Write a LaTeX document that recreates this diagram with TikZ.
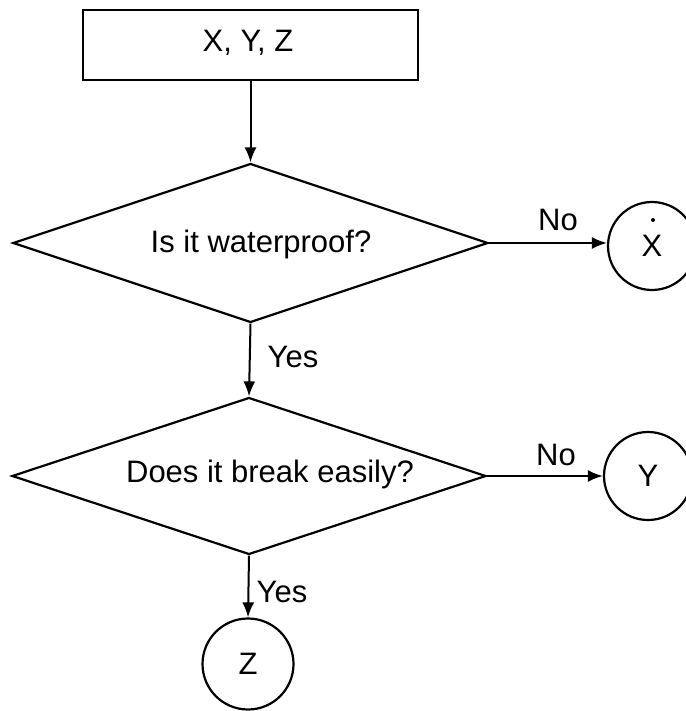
\documentclass[tikz,border=0pt]{standalone}
\usepackage{fontspec}
\setmainfont{Liberation Sans}
\usetikzlibrary{shapes.geometric,arrows.meta}
\begin{document}
\begin{tikzpicture}[x=1pt,y=-1pt,
  line width=2.2pt,
  every node/.style={font=\fontsize{31}{36}\selectfont},
  box/.style={draw, rectangle, minimum width=335pt, minimum height=70pt, inner sep=0pt},
  dia/.style={draw, diamond, inner sep=0pt},
  circ/.style={draw, circle, minimum size=88pt, inner sep=0pt},
  lbl/.style={anchor=base, inner sep=0pt},
  arr/.style={-{Latex[length=15pt,width=12pt]}, line width=2pt}]
\useasboundingbox (0,0) rectangle (685,711);
% boxes and decisions
\node[box] (top) at (250.5,45) {};
\node[lbl] (toptxt) at (248,52) {X, Y, Z};
\node[dia, minimum width=475pt, minimum height=159pt] (d1) at (250.5,243) {};
\node[lbl] (d1txt) at (261,252) {Is it waterproof?};
\node[dia, minimum width=474pt, minimum height=157pt] (d2) at (249,476) {};
\node[lbl] (d2txt) at (270,482) {Does it break easily?};
% outcomes
\node[circ] (cx) at (652,246) {X};
\fill ([shift={(1,-26)}]cx.center) circle (2pt);
\node[circ] (cy) at (648,476) {Y};
\node[circ, minimum size=91pt] (cz) at (248,664) {Z};
% connectors
\draw[arr] (top.south) -- (d1.north);
\draw[arr] (d1.south) -- (d2.north);
\draw[arr] (d2.south) -- (cz.north);
\draw[arr] (d1.east) -- (d1.east -| cx.west);
\draw[arr] (d2.east) -- (d2.east -| cy.west);
% labels
\node[lbl] (no1) at (558,230) {No};
\node[lbl] (no2) at (556,465) {No};
\node[lbl] (yes1) at (293,367) {Yes};
\node[lbl] (yes2) at (282,602) {Yes};
\end{tikzpicture}
\end{document}
